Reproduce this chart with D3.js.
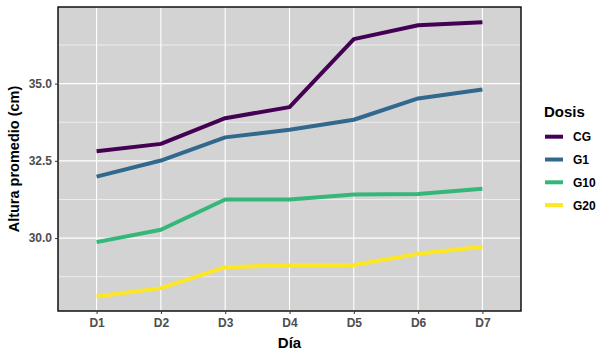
<!DOCTYPE html>
<html><head><meta charset="utf-8">
<script src="https://cdn.jsdelivr.net/npm/d3@7"></script>
<style>body{margin:0;background:#fff}svg{display:block}</style>
</head><body>
<svg id="c" width="612" height="359"></svg>
<script>
const days = ["D1","D2","D3","D4","D5","D6","D7"];
const groups = ["CG","G1","G10","G20"];
const cgValues  = [32.81, 33.05, 33.88, 34.24, 36.44, 36.89, 36.99];
const g1Values  = [31.99, 32.51, 33.26, 33.51, 33.83, 34.52, 34.81];
const g10Values = [29.87, 30.27, 31.25, 31.25, 31.41, 31.43, 31.60];
const g20Values = [28.11, 28.38, 29.06, 29.12, 29.13, 29.49, 29.72];
const yTicks = [30.0, 32.5, 35.0];
const yMinor = [28.75, 31.25, 33.75, 36.25];
const colors = ["#440154","#31688E","#35B779","#FDE725"];

const series = [cgValues, g1Values, g10Values, g20Values].map((v,i)=>({name:groups[i], values:v, color:colors[i]}));

const svg = d3.select("#c");
const L=58, R=521, T=7, B=311;
const x = d3.scalePoint().domain(days).range([L,R]).padding(0.6);
const y = d3.scaleLinear().domain([27.64, 37.48]).range([B,T]);

svg.append("rect").attr("x",L).attr("y",T).attr("width",R-L).attr("height",B-T).attr("fill","#D3D3D3");
const g = svg.append("g");
g.selectAll(".ym").data(yMinor).join("line").attr("x1",L).attr("x2",R).attr("y1",d=>y(d)).attr("y2",d=>y(d)).attr("stroke","#fff").attr("stroke-width",0.6);
g.selectAll(".yM").data(yTicks).join("line").attr("x1",L).attr("x2",R).attr("y1",d=>y(d)).attr("y2",d=>y(d)).attr("stroke","#fff").attr("stroke-width",1.1);
g.selectAll(".xM").data(days).join("line").attr("y1",T).attr("y2",B).attr("x1",d=>x(d)).attr("x2",d=>x(d)).attr("stroke","#fff").attr("stroke-width",1.1);

const line = d3.line().x((d,i)=>x(days[i])).y(d=>y(d));
svg.selectAll(".s").data(series).join("path").attr("d",d=>line(d.values)).attr("fill","none").attr("stroke",d=>d.color).attr("stroke-width",4).attr("stroke-linejoin","round");

svg.append("rect").attr("x",L).attr("y",T).attr("width",R-L).attr("height",B-T).attr("fill","none").attr("stroke","#000").attr("stroke-width",1.4);

const xAxis = svg.append("g").attr("transform",`translate(0,${B})`).call(d3.axisBottom(x).tickSize(3).tickPadding(4));
const yAxis = svg.append("g").attr("transform",`translate(${L},0)`).call(d3.axisLeft(y).tickValues(yTicks).tickFormat(d3.format(".1f")).tickSize(3).tickPadding(3));
[xAxis,yAxis].forEach(a=>{
  a.select(".domain").remove();
  a.selectAll(".tick line").attr("stroke","#333").attr("stroke-width",1);
  a.selectAll(".tick text").attr("fill","#4D4D4D").attr("font-family","Liberation Sans, Arial, sans-serif").attr("font-size",12).attr("font-weight","bold");
});

svg.append("text").attr("x",(L+R)/2).attr("y",348).attr("text-anchor","middle").attr("font-family","Liberation Sans, Arial, sans-serif").attr("font-size",15).attr("font-weight","bold").text("Día");
svg.append("text").attr("transform",`translate(19,159) rotate(-90)`).attr("text-anchor","middle").attr("font-family","Liberation Sans, Arial, sans-serif").attr("font-size",14.5).attr("font-weight","bold").text("Altura promedio (cm)");

const lg = svg.append("g");
lg.append("text").attr("x",544).attr("y",117).attr("font-family","Liberation Sans, Arial, sans-serif").attr("font-size",15).attr("font-weight","bold").text("Dosis");
const items = lg.selectAll(".li").data(series).join("g").attr("transform",(d,i)=>`translate(0,${136.7+i*22.8})`);
items.append("line").attr("x1",545).attr("x2",563).attr("y1",0).attr("y2",0).attr("stroke",d=>d.color).attr("stroke-width",4);
items.append("text").attr("x",573).attr("y",4.5).attr("font-family","Liberation Sans, Arial, sans-serif").attr("font-size",12).attr("font-weight","bold").attr("fill","#000").text(d=>d.name);
</script>
</body></html>
